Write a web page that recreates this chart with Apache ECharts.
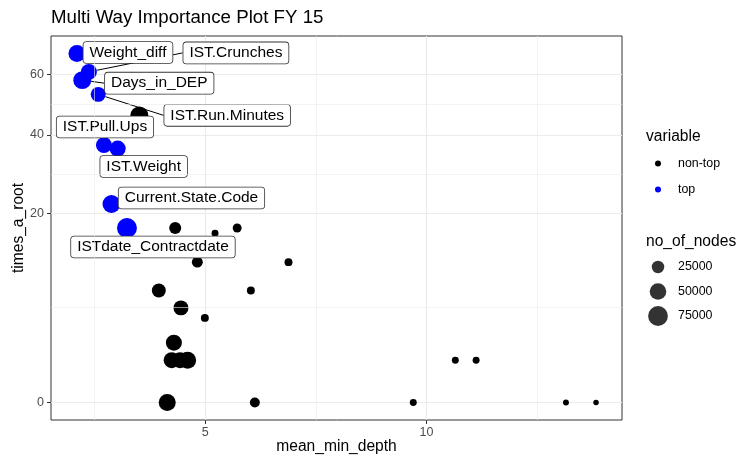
<!DOCTYPE html>
<html>
<head>
<meta charset="utf-8">
<script src="https://cdn.jsdelivr.net/npm/echarts@6/dist/echarts.min.js"></script>
<style>
  html, body { margin: 0; padding: 0; background: #fff; }
  #chart { width: 737px; height: 461px; }
</style>
</head>
<body>
<div id="chart"></div>
<script>
// top variables (blue, labelled)
var topNames = ['Weight_diff', 'IST.Crunches', 'Days_in_DEP', 'IST.Run.Minutes',
  'IST.Pull.Ups', 'IST.Weight', 'Current.State.Code', 'ISTdate_Contractdate'];
var topDepth = [2.10, 2.37, 2.22, 2.58, 2.71, 3.02, 2.88, 3.23];
var topRoot = [68, 61, 58, 53, 37, 36, 22, 17];
var topNodes = [53000, 46000, 60000, 39000, 46000, 46000, 60000, 77000];

// non-top variables (black)
var nonTopDepth = [3.51, 4.32, 5.72, 5.22, 4.82, 6.88, 3.95, 6.03, 4.45, 4.99, 4.29,
  4.24, 4.43, 4.60, 4.14, 6.12, 9.70, 10.65, 11.12, 13.15, 13.83];
var nonTopRoot = [46, 17, 17, 16, 11, 11, 7, 7, 5, 4, 2, 1, 1, 1, 0, 0, 0, 1, 1, 0, 0];
var nonTopNodes = [60000, 23000, 10500, 5000, 18000, 7500, 33000, 7500, 39000, 7500, 46000,
  46000, 46000, 53000, 53000, 14000, 5000, 5000, 5000, 3000, 2300];

var xTicks = [5, 10];
var yTicks = [0, 20, 40, 60];
var sizeBreaks = [25000, 50000, 75000];

var FONT = '"Liberation Sans", Arial, Helvetica, sans-serif';

// label box offsets from point (ggrepel placement)
var labelShift = {
  'Weight_diff': [51, -1],
  'IST.Crunches': [147, -19],
  'Days_in_DEP': [77, 3],
  'IST.Run.Minutes': [129, 21],
  'IST.Pull.Ups': [1, -18],
  'IST.Weight': [26, 18],
  'Current.State.Code': [80, -6],
  'ISTdate_Contractdate': [26, 19]
};
// labels far enough from their point to get a segment
var withSegment = ['IST.Crunches', 'Days_in_DEP', 'IST.Run.Minutes'];

function nodeSize(n) {
  return 2.5 + 0.063 * Math.sqrt(n);
}

var allX = topDepth.concat(nonTopDepth);
var allY = topRoot.concat(nonTopRoot).map(Math.sqrt);
var xLo = Math.min.apply(null, allX), xHi = Math.max.apply(null, allX);
var yLo = Math.min.apply(null, allY), yHi = Math.max.apply(null, allY);
var xMin = xLo - 0.05 * (xHi - xLo), xMax = xHi + 0.05 * (xHi - xLo);
var yMin = yLo - 0.05 * (yHi - yLo), yMax = yHi + 0.05 * (yHi - yLo);

var ySqrtTicks = yTicks.map(Math.sqrt);
var yMinor = [];
for (var i = 0; i < ySqrtTicks.length - 1; i++) {
  yMinor.push((ySqrtTicks[i] + ySqrtTicks[i + 1]) / 2);
}
var xMinor = [2.5, 7.5, 12.5];

var topData = topDepth.map(function (d, i) {
  return {
    name: topNames[i],
    value: [d, Math.sqrt(topRoot[i]), topNodes[i]],
    labelLine: { show: withSegment.indexOf(topNames[i]) >= 0 }
  };
});
var nonTopData = nonTopDepth.map(function (d, i) {
  return [d, Math.sqrt(nonTopRoot[i]), nonTopNodes[i]];
});

var minorLines = xMinor.map(function (v) { return { xAxis: v }; })
  .concat(yMinor.map(function (v) { return { yAxis: v }; }));

var series = [
  {
    name: 'grid-minor',
    type: 'scatter',
    data: [],
    z: 0,
    silent: true,
    markLine: {
      silent: true,
      symbol: 'none',
      animation: false,
      label: { show: false },
      lineStyle: { color: '#EBEBEB', width: 0.6, type: 'solid' },
      emphasis: { disabled: true },
      data: minorLines
    }
  },
  {
    name: 'non-top',
    type: 'scatter',
    z: 2,
    itemStyle: { color: '#000000', opacity: 1 },
    symbolSize: function (v) { return nodeSize(v[2]); },
    data: nonTopData
  },
  {
    name: 'top',
    type: 'scatter',
    z: 3,
    itemStyle: { color: '#0000FF', opacity: 1 },
    symbolSize: function (v) { return nodeSize(v[2]); },
    data: topData,
    label: {
      show: true,
      position: 'inside',
      formatter: '{b}',
      fontFamily: FONT,
      fontSize: 15.5,
      lineHeight: 15,
      color: '#000',
      backgroundColor: '#fff',
      borderColor: '#333',
      borderWidth: 0.8,
      borderRadius: 3,
      padding: [3, 6, 3, 6]
    },
    labelLine: {
      show: true,
      lineStyle: { color: '#000', width: 1 }
    },
    labelLayout: function (p) {
      var s = labelShift[topNames[p.dataIndex]];
      return { dx: s[0], dy: s[1] };
    }
  }
];

sizeBreaks.forEach(function (b) {
  series.push({ name: String(b), type: 'scatter', data: [], itemStyle: { color: '#000' } });
});

// legend entries: [series name, icon diameter, centre y]
var legendRows = [
  ['non-top', 6, 163],
  ['top', 6, 189],
  ['25000', nodeSize(25000), 267],
  ['50000', nodeSize(50000), 291.5],
  ['75000', nodeSize(75000), 316]
];
var legends = legendRows.map(function (r) {
  var d = r[1];
  return {
    data: [r[0]],
    left: 658 - d / 2,
    top: r[2] - Math.max(d, 11) / 2,
    padding: 0,
    icon: 'circle',
    itemWidth: d,
    itemHeight: d,
    selectedMode: false,
    textStyle: {
      fontFamily: FONT, fontSize: 12.4, color: '#000',
      padding: [0, 0, 0, 15 - d / 2]
    }
  };
});

var option = {
  animation: false,
  title: [
    {
      text: 'Multi Way Importance Plot FY 15',
      left: 51, top: 7, padding: 0,
      textStyle: { fontFamily: FONT, fontSize: 18.7, fontWeight: 'normal', color: '#000', lineHeight: 22 }
    },
    {
      text: 'variable',
      left: 646, top: 128, padding: 0,
      textStyle: { fontFamily: FONT, fontSize: 15.6, fontWeight: 'normal', color: '#000', lineHeight: 18 }
    },
    {
      text: 'no_of_nodes',
      left: 646, top: 233, padding: 0,
      textStyle: { fontFamily: FONT, fontSize: 15.6, fontWeight: 'normal', color: '#000', lineHeight: 18 }
    }
  ],
  legend: legends,
  grid: {
    left: 51, top: 36, width: 571, height: 384,
    outerBoundsMode: 'none',
    containLabel: false,
    show: true, borderColor: '#333', borderWidth: 1, backgroundColor: 'transparent'
  },
  xAxis: {
    type: 'value',
    min: xMin, max: xMax,
    name: 'mean_min_depth',
    nameLocation: 'middle',
    nameGap: 19,
    nameMoveOverlap: false,
    nameTextStyle: { fontFamily: FONT, fontSize: 15.6, color: '#000' },
    axisLine: { show: false, onZero: false },
    axisTick: { show: true, length: 4, customValues: xTicks, lineStyle: { color: '#333' } },
    axisLabel: {
      customValues: xTicks, margin: 6,
      fontFamily: FONT, fontSize: 12.5, color: '#4D4D4D'
    },
    splitLine: { show: true, lineStyle: { color: '#EBEBEB', width: 1.1 } }
  },
  yAxis: {
    type: 'value',
    min: yMin, max: yMax,
    name: 'times_a_root',
    nameLocation: 'middle',
    nameGap: 24,
    nameMoveOverlap: false,
    nameTextStyle: { fontFamily: FONT, fontSize: 15.6, color: '#000' },
    axisLine: { show: false, onZero: false },
    axisTick: { show: true, length: 4, customValues: ySqrtTicks, lineStyle: { color: '#333' } },
    axisLabel: {
      customValues: ySqrtTicks, margin: 7,
      fontFamily: FONT, fontSize: 12.5, color: '#4D4D4D',
      formatter: function (v) { return String(Math.round(v * v)); }
    },
    splitLine: { show: true, lineStyle: { color: '#EBEBEB', width: 1.1 } }
  },
  series: series
};

var myChart = echarts.init(document.getElementById('chart'));
myChart.setOption(option);
</script>
</body>
</html>
